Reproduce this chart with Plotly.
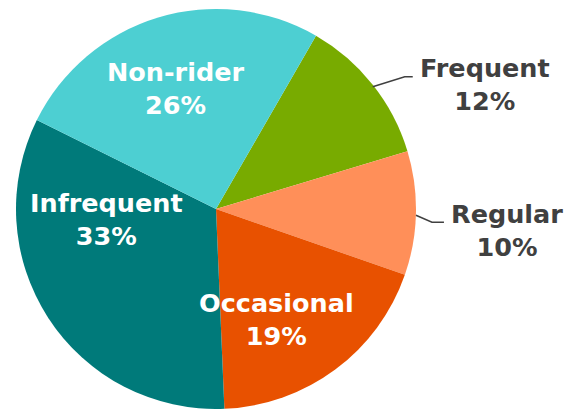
import math
import plotly.graph_objects as go

categories = ["Frequent", "Regular", "Occasional", "Infrequent", "Non-rider"]
shares = [12, 10, 19, 33, 26]
colors = ["#78AB00", "#FF8F59", "#E85100", "#007A7A", "#4DCFD2"]
outside = ["Frequent", "Regular"]

W, H = 567, 409
CX, CY, R = 216, 211, 200
ROT = 30
FONT = "DejaVu Sans"
FS = 25.5

# label placement (layout only): inside labels as (angle deg, radius fraction),
# outside labels as (elbow dx, elbow dy, horizontal run)
inside_pos = {"Occasional": (150.7, 0.62), "Infrequent": (265.8, 0.55),
              "Non-rider": (341.8, 0.645)}
outside_pos = {"Frequent": (32, -10, 8), "Regular": (16, 7, 12)}

fig = go.Figure()
fig.add_trace(go.Pie(
    labels=categories, values=shares, sort=False, direction="clockwise",
    rotation=ROT, marker=dict(colors=colors, line=dict(width=0)),
    textinfo="none", hoverinfo="label+percent", showlegend=False,
    domain=dict(x=[(CX - R) / W, (CX + R) / W], y=[0, 2 * R / H]),
))

def px(x, y):
    return x / W, 1 - y / H

total = sum(shares)
cum = 0
shapes, annotations = [], []
for c, v in zip(categories, shares):
    mid = ROT + (cum + v / 2) / total * 360
    cum += v
    pct = f"{round(v / total * 100)}%"
    if c in inside_pos:
        ang, rf = inside_pos[c]
        a = math.radians(ang)
        tx, ty = px(CX + rf * R * math.sin(a), CY - rf * R * math.cos(a))
        annotations.append(dict(x=tx, y=ty, xref="paper", yref="paper",
                                text=f"{c}<br>{pct}", showarrow=False,
                                xanchor="center", yanchor="middle", align="center",
                                font=dict(family=FONT, size=FS, color="white",
                                          weight="bold")))
        continue
    a = math.radians(mid)
    x0, y0 = CX + R * math.sin(a), CY - R * math.cos(a)
    ex, ey, run = outside_pos[c]
    x1, y1 = x0 + ex, y0 + ey
    x2 = x1 + run
    p0, p1, p2 = px(x0, y0), px(x1, y1), px(x2, y1)
    shapes.append(dict(type="path", xref="paper", yref="paper",
                       path=f"M {p0[0]} {p0[1]} L {p1[0]} {p1[1]} L {p2[0]} {p2[1]}",
                       line=dict(color="#404040", width=1.5)))
    tx, ty = px(x2 + 5, y1 + 8)
    annotations.append(dict(x=tx, y=ty, xref="paper", yref="paper",
                            text=f"{c}<br>{pct}", showarrow=False,
                            xanchor="left", yanchor="middle", align="center",
                            font=dict(family=FONT, size=FS, color="#404040",
                                      weight="bold")))

fig.update_layout(width=W, height=H, margin=dict(l=0, r=0, t=0, b=0),
                  paper_bgcolor="white", plot_bgcolor="white",
                  shapes=shapes, annotations=annotations)
fig.write_html("out.html", config={"displayModeBar": False},
               post_script="document.body.style.margin='0';document.body.style.overflow='hidden';")
